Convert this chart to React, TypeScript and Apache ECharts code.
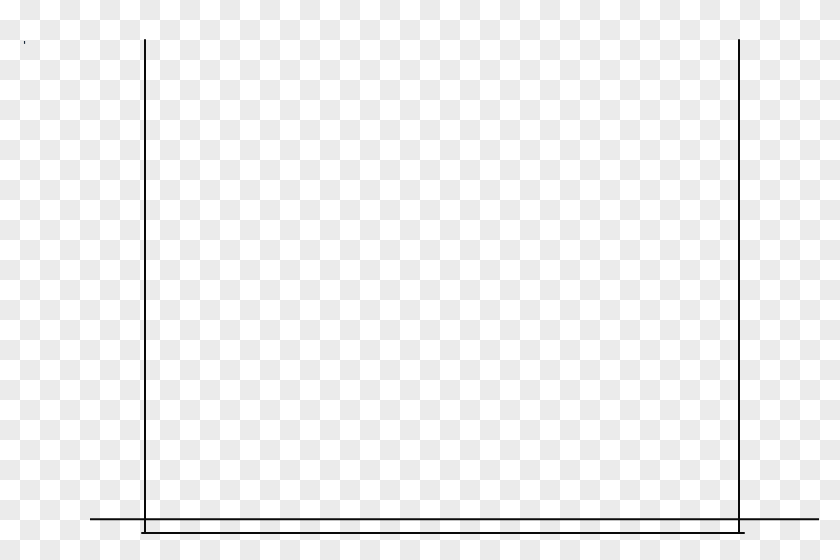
import React, { useEffect, useRef } from "react";
import * as echarts from "echarts";

// The chart holds no data points: only its frame is drawn.
const categories: string[] = [];
const values: number[] = [];
const titleText = "'";
const yRange = [0, 1];
const baselineValue = 0.028; // the long horizontal line, just above the x axis

export default function App() {
  const ref = useRef<HTMLDivElement>(null);
  useEffect(() => {
    if (!ref.current) return;
    const chart = echarts.init(ref.current, undefined, { renderer: "svg" });
    const lineStyle = { color: "#0a0a0a", width: 2 };
    chart.setOption({
      animation: false,
      backgroundColor: "transparent",
      title: {
        text: titleText,
        left: 18,
        top: 35,
        textStyle: { fontSize: 10, color: "#1a2a3a", fontWeight: "bold", fontFamily: "DejaVu Sans" },
      },
      grid: { left: 142, right: 96, top: 40, bottom: 27, containLabel: false },
      xAxis: {
        type: "category",
        data: categories,
        axisLine: { show: true, lineStyle },
        axisTick: { show: false },
        axisLabel: { show: false },
        splitLine: { show: false },
      },
      yAxis: [
        {
          type: "value",
          min: yRange[0],
          max: yRange[1],
          position: "left",
          offset: -3,
          axisLine: { show: true, onZero: false, lineStyle },
          axisTick: { show: false },
          axisLabel: { show: false },
          splitLine: { show: false },
        },
        {
          type: "value",
          min: yRange[0],
          max: yRange[1],
          position: "right",
          offset: -5,
          axisLine: { show: true, onZero: false, lineStyle },
          axisTick: { show: false },
          axisLabel: { show: false },
          splitLine: { show: false },
        },
      ],
      series: [
        {
          type: "line",
          data: values,
          yAxisIndex: 0,
          symbol: "none",
        },
      ],
    });
    // long horizontal line extending past the frame on both sides
    const yPix = chart.convertToPixel({ yAxisIndex: 0 }, baselineValue) as number;
    chart.setOption({
      graphic: [
        {
          type: "line",
          shape: { x1: 90, y1: yPix, x2: 819, y2: yPix },
          style: { stroke: "#0a0a0a", lineWidth: 2 },
          z: 10,
        },
      ],
    });
    return () => chart.dispose();
  }, []);
  return (
    <div
      ref={ref}
      style={{
        position: "fixed",
        left: 0,
        top: 0,
        width: 840,
        height: 560,
        background:
          "conic-gradient(#ebebeb 0 25%, #ffffff 0 50%, #ebebeb 0 75%, #ffffff 0) 0 0 / 40px 40px",
      }}
    />
  );
}
